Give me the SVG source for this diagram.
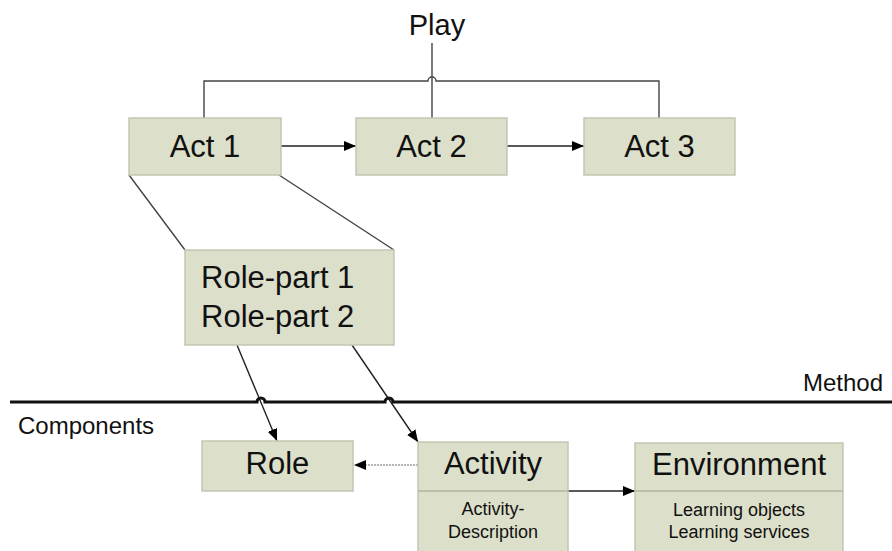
<svg xmlns="http://www.w3.org/2000/svg" width="892" height="551" viewBox="0 0 892 551">
<style>
.box{fill:#dcdfca;stroke:#c4c6b3;stroke-width:1.5}
.div{stroke:#b3b5a2;stroke-width:1.5}
.t{font-family:"Liberation Sans",Arial,sans-serif;fill:#111}
.big{font-size:31px}
.small{font-size:18px;text-anchor:middle}
.c{text-anchor:middle}
.ln{fill:none;stroke:#444;stroke-width:1.4}
.arr{fill:none;stroke:#222;stroke-width:1.4;marker-end:url(#ah)}
</style>
<defs>
<marker id="ah" markerUnits="userSpaceOnUse" markerWidth="13" markerHeight="11" refX="12" refY="5" orient="auto">
<path d="M0,0 L12,5 L0,10 z" fill="#000"/>
</marker>
</defs>
<rect width="892" height="551" fill="#fff"/>
<g id="labels">
<text class="t c" x="437" y="35" font-size="29">Play</text>
<text class="t" x="18" y="434" font-size="24">Components</text>
<text class="t" x="883" y="391" font-size="24" text-anchor="end">Method</text>
</g>
<g id="connectors">
<path class="ln" d="M204,118 V81 H428 A4,4 0 0 1 436,81 H659 V118"/>
<path class="ln" d="M432,43 V118"/>
<path class="ln" d="M129,175 L185,250"/>
<path class="ln" d="M279,175 L394,250"/>
<path class="arr" d="M281,146 H356"/>
<path class="arr" d="M507,146 H584"/>
<path class="arr" d="M237,345 L277,441"/>
<path class="arr" d="M352,345 L418,442"/>
<path d="M418,465 H364" fill="none" stroke="#b5b5b5" stroke-width="2" stroke-dasharray="2,1"/>
<path d="M366,460 L354,465 L366,470 z" fill="#000"/>
<path class="arr" d="M568,491 H635"/>
<path d="M10,402 H257 A4,4 0 0 1 265,402 H385 A4,4 0 0 1 393,402 H892" fill="none" stroke="#111" stroke-width="3"/>
</g>
<g id="act1">
<rect class="box" x="129" y="118" width="152" height="57"/>
<text class="t big c" x="205" y="157">Act 1</text>
</g>
<g id="act2">
<rect class="box" x="356" y="118" width="151" height="57"/>
<text class="t big c" x="431.5" y="157">Act 2</text>
</g>
<g id="act3">
<rect class="box" x="584" y="118" width="151" height="57"/>
<text class="t big c" x="659.5" y="157">Act 3</text>
</g>
<g id="roleparts">
<rect class="box" x="185" y="250" width="209" height="95"/>
<text class="t big" x="201" y="288">Role-part 1</text>
<text class="t big" x="201" y="327">Role-part 2</text>
</g>
<g id="role">
<rect class="box" x="202" y="441" width="151" height="50"/>
<text class="t big c" x="277.5" y="474">Role</text>
</g>
<g id="activity">
<rect class="box" x="418" y="442" width="150" height="120"/>
<line class="div" x1="418" y1="491" x2="568" y2="491"/>
<text class="t big c" x="493" y="474">Activity</text>
<text class="t small" x="493" y="515">Activity-</text>
<text class="t small" x="493" y="538">Description</text>
</g>
<g id="environment">
<rect class="box" x="635" y="443" width="208" height="120"/>
<line class="div" x1="635" y1="491" x2="843" y2="491"/>
<text class="t big c" x="739" y="475">Environment</text>
<text class="t small" x="739" y="516">Learning objects</text>
<text class="t small" x="739" y="538">Learning services</text>
</g>
</svg>
